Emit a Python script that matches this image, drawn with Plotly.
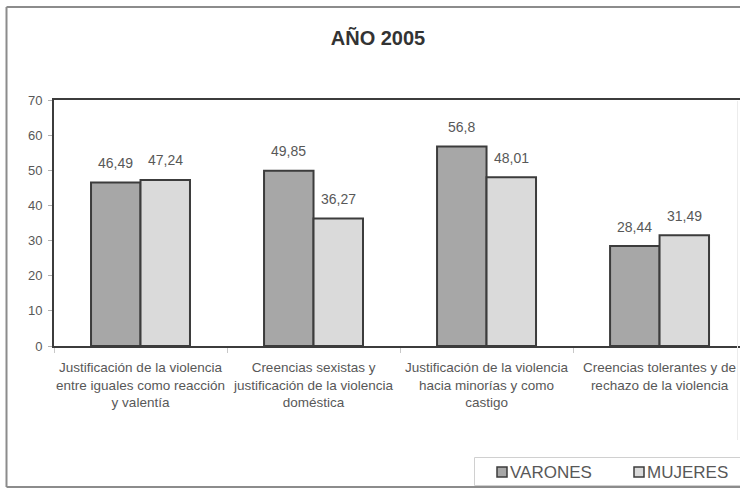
import plotly.graph_objects as go

# Survey results, year 2005 (percentages)
categorias = [
    "Justificación de la violencia<br>entre iguales como reacción<br>y valentía",
    "Creencias sexistas y<br>justificación de la violencia<br>doméstica",
    "Justificación de la violencia<br>hacia minorías y como<br>castigo",
    "Creencias tolerantes y de<br>rechazo de la violencia",
]
varones = [46.49, 49.85, 56.8, 28.44]
mujeres = [47.24, 36.27, 48.01, 31.49]
series = ["VARONES", "MUJERES"]
colores = ["#a7a7a7", "#dadada"]

FONT = "Liberation Sans, Arial, sans-serif"
TXT = "#585858"
LINE = "#3c3c3c"

W, H = 740, 488
L, R, T, B = 54, 0, 100, 142
PW, PH = W - L - R, H - T - B


def px(x):
    return (x - L) / PW


def py(y):
    return (H - B - y) / PH


def fmt(v):
    return f"{v:g}".replace(".", ",")


fig = go.Figure()
for nombre, vals, col in zip(series, [varones, mujeres], colores):
    fig.add_trace(go.Bar(
        name=nombre, x=categorias, y=vals,
        marker=dict(color=col, line=dict(color=LINE, width=2)),
        showlegend=False,
    ))

bargap = 0.428
half = (1 - bargap) / 4
for k, vals in enumerate([varones, mujeres]):
    off = -half if k == 0 else half
    for i, v in enumerate(vals):
        fig.add_annotation(
            x=i + off, y=v, xref="x", yref="y", text=fmt(v),
            showarrow=False, yanchor="middle", yshift=19.5,
            font=dict(family=FONT, size=14, color=TXT),
        )

# outer frame of the chart (left, top and bottom edges)
frame = dict(color="#8c8c8c", width=2)
for x0, y0, x1, y1 in [(6.5, 7, 6.5, 487), (6.5, 7, 740, 7), (6.5, 487, 740, 487)]:
    fig.add_shape(type="line", xref="paper", yref="paper",
                  x0=px(x0), x1=px(x1), y0=py(y0), y1=py(y1), line=frame)

# faint right edge of the plotting area
fig.add_shape(type="line", xref="paper", yref="paper",
              x0=px(737.5), x1=px(737.5), y0=py(440), y1=py(101),
              line=dict(color="#ececec", width=1))

# legend box
fig.add_shape(type="rect", xref="paper", yref="paper",
              x0=px(474.5), x1=px(745), y0=py(485.5), y1=py(457.5),
              line=dict(color="#d0d0d0", width=1), fillcolor="white")
for nombre, col, sx in zip(series, colores, [497, 634]):
    fig.add_shape(type="rect", xref="paper", yref="paper",
                  x0=px(sx), x1=px(sx + 10), y0=py(477), y1=py(467),
                  line=dict(color=LINE, width=1.5), fillcolor=col)
    fig.add_annotation(x=px(sx + 11), y=py(472), xref="paper", yref="paper",
                       text=nombre, showarrow=False, xanchor="left",
                       yanchor="middle",
                       font=dict(family=FONT, size=17, color=TXT))

fig.update_layout(
    width=W, height=H,
    margin=dict(l=L, r=R, t=T, b=B),
    paper_bgcolor="white", plot_bgcolor="white",
    barmode="group", bargap=bargap, bargroupgap=0,
    title=dict(text="<b>AÑO 2005</b>", x=378 / W, xref="container",
               xanchor="center", y=1 - 38 / H, yanchor="middle",
               font=dict(family=FONT, size=20, color="#333333")),
    font=dict(family=FONT, size=13, color=TXT),
)
fig.update_xaxes(
    type="category", range=[-0.5, 3.465], automargin=False, tickangle=0,
    showline=True, linecolor=LINE, linewidth=2, mirror=True,
    ticks="outside", tickson="boundaries", ticklen=5, tickcolor="#c8c8c8",
    ticklabelstandoff=8,
    showgrid=False, tickfont=dict(family=FONT, size=13.5, color=TXT),
)
fig.update_yaxes(
    range=[0, 70], dtick=10, automargin=False,
    showline=True, linecolor=LINE, linewidth=2,
    ticks="outside", ticklen=4, tickcolor="#b0b0b0",
    ticklabelstandoff=3,
    showgrid=False, zeroline=False,
    tickfont=dict(family=FONT, size=13, color=TXT),
)

fig.write_html("out.html")
